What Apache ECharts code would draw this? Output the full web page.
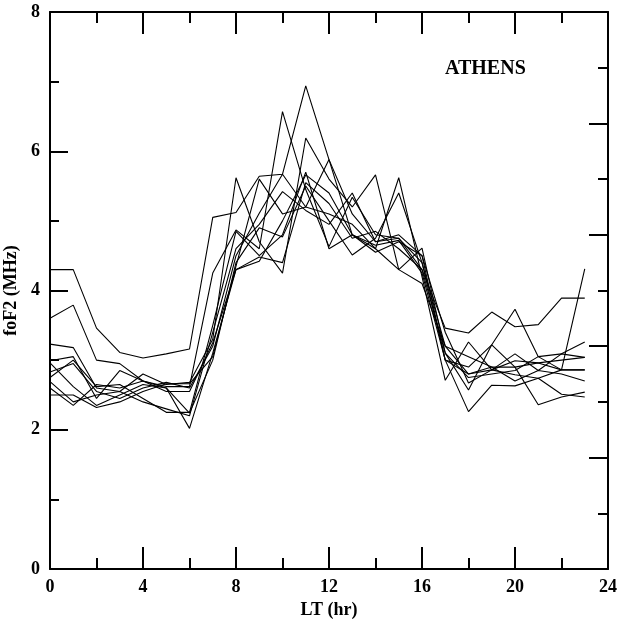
<!DOCTYPE html>
<html>
<head>
<meta charset="utf-8">
<script src="https://cdn.jsdelivr.net/npm/echarts@6/dist/echarts.min.js"></script>
<style>
html,body{margin:0;padding:0;background:#fff;}
#c{width:620px;height:621px;}
</style>
</head>
<body>
<div id="c"></div>
<script>
var hours = [0,1,2,3,4,5,6,7,8,9,10,11,12,13,14,15,16,17,18,19,20,21,22,23];
var xTicks = [0,4,8,12,16,20,24];
var yTicks = [0,2,4,6,8];
var s1  = [4.30,4.30,3.46,3.11,3.03,3.09,3.16,5.05,5.12,5.64,5.67,6.94,5.88,5.10,4.70,4.75,4.40,3.20,2.80,2.86,2.79,2.74,2.86,2.86];
var s2  = [3.60,3.79,3.00,2.95,2.70,2.62,2.62,4.25,4.87,4.60,6.57,5.45,4.63,5.34,4.80,4.75,4.30,3.46,3.39,3.69,3.48,3.51,3.89,3.89];
var s3  = [3.23,3.18,2.60,2.55,2.80,2.65,2.68,3.30,5.62,4.70,4.25,6.19,5.60,5.20,5.66,4.30,4.61,3.10,2.57,3.22,3.73,3.05,2.86,4.31];
var s4  = [2.99,3.05,2.45,2.85,2.70,2.60,2.02,3.10,4.30,4.42,5.00,5.66,5.40,4.80,4.60,5.62,4.20,2.71,3.26,2.86,2.99,2.96,3.00,3.04];
var s5  = [2.96,2.62,2.35,2.50,2.65,2.60,2.24,3.00,4.40,4.90,4.77,5.50,5.00,4.51,4.75,5.40,4.40,3.00,2.26,2.64,2.63,2.74,2.51,2.47];
var s6  = [2.83,2.95,2.55,2.45,2.60,2.68,2.60,3.20,4.50,5.11,5.67,5.20,5.88,4.80,4.55,4.70,4.50,3.40,2.67,2.86,3.09,2.85,3.09,3.26];
var s7  = [2.69,2.40,2.50,2.55,2.40,2.30,2.20,3.40,4.60,4.95,5.42,5.15,4.95,5.40,4.70,4.80,4.50,3.00,2.80,2.90,2.90,2.36,2.47,2.54];
var s8  = [2.50,2.50,2.32,2.40,2.55,2.66,2.66,3.05,4.35,5.60,5.10,5.20,5.10,4.95,4.60,4.30,4.10,3.20,3.05,2.90,2.70,2.85,2.80,2.70];
var s9  = [2.75,3.00,2.62,2.65,2.45,2.25,2.25,3.50,4.85,4.50,4.80,5.70,4.60,4.80,4.65,4.72,4.25,3.00,2.90,3.22,2.90,2.96,2.86,2.86];
var s10 = [2.60,2.35,2.65,2.60,2.70,2.55,2.55,3.25,4.30,4.48,4.40,5.55,5.25,4.75,4.85,4.60,4.30,3.10,2.75,2.80,2.85,3.05,3.09,3.04];
var allSeries = [s1,s2,s3,s4,s5,s6,s7,s8,s9,s10];

var FONT = '"Liberation Serif", "Times New Roman", serif';
var lbl = {color:'#000', fontFamily:FONT, fontWeight:'bold', fontSize:18};
var nameStyle = {color:'#000', fontFamily:FONT, fontWeight:'bold', fontSize:18};
var chart = echarts.init(document.getElementById('c'), null, {renderer:'canvas'});
var series = allSeries.map(function(s){
  return {
    type:'line', xAxisIndex:0, yAxisIndex:0, showSymbol:false, symbol:'none',
    data: hours.map(function(h,i){return [h, s[i]];}),
    lineStyle:{color:'#000', width:1.1}, animation:false, silent:true
  };
});
var axLine = {onZero:false, lineStyle:{color:'#000', width:2}};
var option = {
  backgroundColor:'#fff',
  animation:false,
  grid:{left:50, right:12, top:12, bottom:52, containLabel:false, outerBoundsMode:'none'},
  xAxis:[{
    type:'value', position:'bottom', min:xTicks[0], max:xTicks[xTicks.length-1], interval:4,
    name:'LT (hr)', nameLocation:'middle', nameGap:30, nameTextStyle:nameStyle,
    axisLine:axLine,
    axisTick:{inside:true, length:22, lineStyle:{color:'#000', width:2}},
    minorTick:{show:true, splitNumber:2, length:11, lineStyle:{color:'#000', width:2}},
    axisLabel:Object.assign({margin:9}, lbl),
    splitLine:{show:false}
  },{
    type:'value', position:'top', min:0, max:24, interval:4,
    axisLine:axLine,
    axisTick:{inside:true, length:22, lineStyle:{color:'#000', width:2}},
    minorTick:{show:true, splitNumber:2, length:11, lineStyle:{color:'#000', width:2}},
    axisLabel:{show:false}, splitLine:{show:false}
  }],
  yAxis:[{
    type:'value', position:'left', min:yTicks[0], max:yTicks[yTicks.length-1], interval:2,
    name:'foF2 (MHz)', nameLocation:'middle', nameGap:28, nameTextStyle:nameStyle,
    axisLine:axLine,
    axisTick:{inside:true, length:18, lineStyle:{color:'#000', width:2}},
    minorTick:{show:true, splitNumber:2, length:9, lineStyle:{color:'#000', width:2}},
    axisLabel:Object.assign({margin:10}, lbl),
    splitLine:{show:false}
  },{
    type:'value', position:'right', min:0, max:10, interval:2,
    axisLine:axLine,
    axisTick:{show:true, inside:true, length:19, lineStyle:{color:'#000', width:2}},
    minorTick:{show:true, splitNumber:2, length:10, lineStyle:{color:'#000', width:2}},
    axisLabel:{show:false}, splitLine:{show:false}
  }],
  graphic:[{
    type:'text', left:445, top:59,
    style:{text:'ATHENS', fill:'#000', font:'bold 20px "Liberation Serif", serif'}
  }],
  series: series
};
chart.setOption(option);
</script>
</body>
</html>
